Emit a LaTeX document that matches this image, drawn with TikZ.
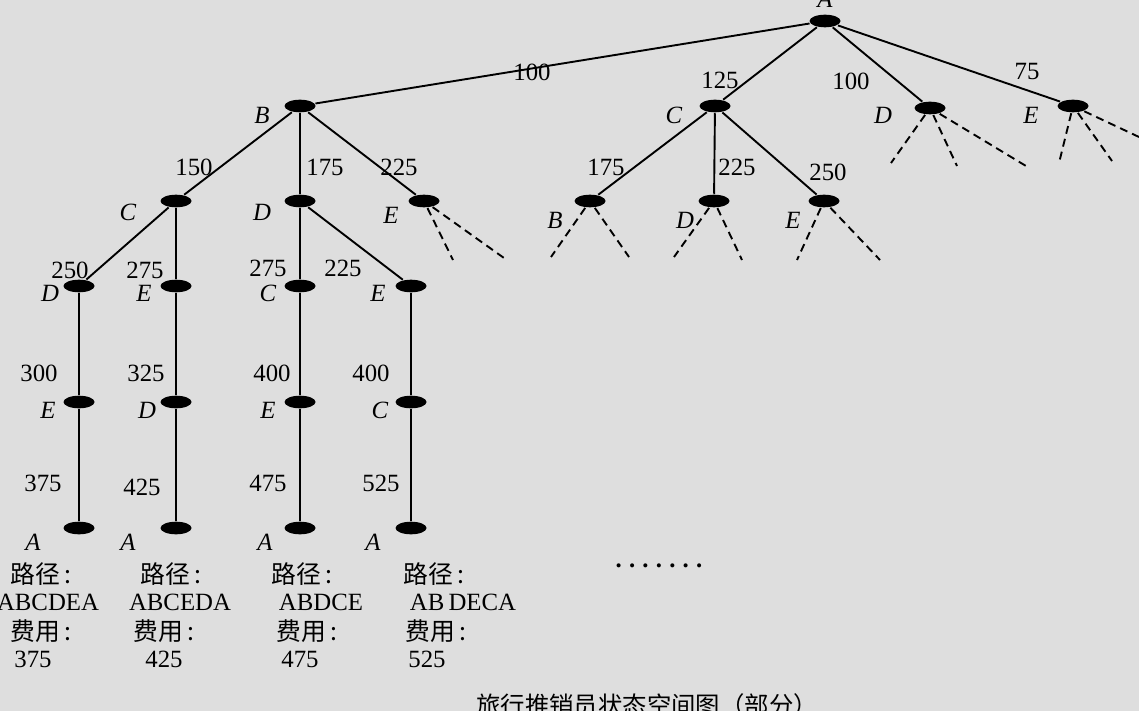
\documentclass[tikz,border=0pt]{standalone}
\usepackage{fontspec}
\setmainfont{Liberation Serif}
\newfontfamily\cjk{Noto Sans CJK SC}
\usetikzlibrary{shapes.geometric}
\definecolor{paper}{RGB}{222,222,222}
\tikzset{
  dot/.style={ellipse, fill=black, minimum width=15.5pt, minimum height=6.3pt, inner sep=0pt},
  letter/.style={font=\itshape, inner sep=0pt},
  cost/.style={inner sep=0pt},
  leaf/.style={dash pattern=on 4pt off 2.6pt},
  note/.style={font=\cjk, inner sep=0pt},
}
\begin{document}
\fontsize{12.4}{14}\selectfont
\begin{tikzpicture}[x=0.5pt, y=-0.5pt, line width=0.95pt]
\fill[paper] (0,0) rectangle (1139,711);
\useasboundingbox (0,0) rectangle (1139,711);
% states
\foreach \n/\x/\y/\l/\lx/\ly in {
  A/825/21/A/825/-1,
  AB/300/106/B/262/115, AC/715/106/C/674/115, AD/930/108/D/883/115, AE/1073/106/E/1031/115,
  ABC/176/201/C/128/212, ABD/300/201/D/262/212, ABE/424/201/E/391/215,
  ACB/590/201/B/555/220, ACD/714/201/D/685/220, ACE/824/201/E/793/220,
  ABCD/79/286/D/50/293, ABCE/176/286/E/144/293, ABDC/300/286/C/268/293, ABDE/411/286/E/378/293,
  ABCDE/79/402/E/48/410, ABCED/176/402/D/147/410, ABDCE/300/402/E/268/410, ABDEC/411/402/C/380/410,
  ABCDEA/79/528/A/33/542, ABCEDA/176/528/A/128/542, ABDCEA/300/528/A/265/542, ABDECA/411/528/A/373/542}{
  \node[dot] (\n) at (\x,\y) {};
  \node[letter] (\n-l) at (\lx,\ly) {\l};
}
% moves and costs
\foreach \a/\b/\w/\wx/\wy in {
  A/AB/100/532/72, A/AC/125/720/80, A/AD/100/851/81, A/AE/75/1027/72,
  AB/ABC/150/194/167, AB/ABD/175/325/167, AB/ABE/225/399/167,
  AC/ACB/175/606/167, AC/ACD/225/737/167, AC/ACE/250/828/172,
  ABC/ABCD/250/70/270, ABC/ABCE/275/145/270, ABD/ABDC/275/268/268, ABD/ABDE/225/343/268,
  ABCD/ABCDE/300/39/373, ABCE/ABCED/325/146/373, ABDC/ABDCE/400/272/373, ABDE/ABDEC/400/371/373,
  ABCDE/ABCDEA/375/43/483, ABCED/ABCEDA/425/142/487, ABDCE/ABDCEA/475/268/483, ABDEC/ABDECA/525/381/483}{
  \draw (\a) -- (\b);
  \node[cost] (w-\b) at (\wx,\wy) {\w};
}
% unexpanded branches
\foreach \a/\x/\y [count=\i] in {
  AD/891/163, AD/957/166, AD/1026/166,
  AE/1059/163, AE/1112/161, AE/1139/137,
  ABE/453/260, ABE/504/258,
  ACB/551/257, ACB/629/257,
  ACD/674/257, ACD/742/260,
  ACE/797/260, ACE/880/260}{
  \coordinate (t\i) at (\x,\y);
  \draw[leaf] (\a) -- (t\i);
}
% routes found
\foreach \x/\y [count=\i] in {41/574, 171/574, 302/574, 434/574}
  \node[note] (route\i) at (\x,\y) {路径\,:};
\foreach \t/\x [count=\i] in {ABCDEA/48, ABCEDA/180, ABDCE/321, AB\,DECA/463}
  \node[cost] (path\i) at (\x,602) {\t};
\foreach \x/\y [count=\i] in {41/631, 164/631, 307/631, 436/631}
  \node[note] (fee\i) at (\x,\y) {费用\,:};
\foreach \t/\x [count=\i] in {375/33, 425/164, 475/300, 525/427}
  \node[cost] (sum\i) at (\x,659) {\t};
\node[cost, font=\bfseries] (more) at (659,566) {.\hspace{3.6pt}.\hspace{3.6pt}.\hspace{3.6pt}.\hspace{3.6pt}.\hspace{3.6pt}.\hspace{3.6pt}.};
\node[note, font=\cjk\fontsize{12.2}{14}\selectfont] (title) at (647,705) {旅行推销员状态空间图（部分）};
\end{tikzpicture}
\end{document}
